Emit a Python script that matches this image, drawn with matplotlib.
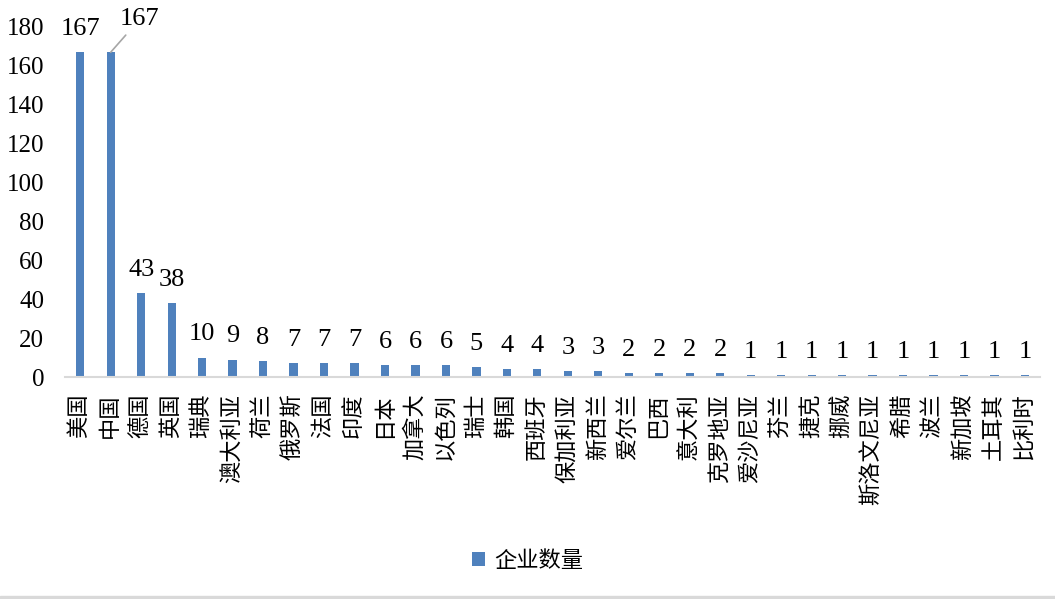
import matplotlib
matplotlib.use('Agg')
import matplotlib.pyplot as plt
from matplotlib.patches import Rectangle

plt.rcParams['font.family'] = ['Liberation Serif', 'Noto Sans CJK SC', 'DejaVu Sans']

countries = ['美国', '中国', '德国', '英国', '瑞典', '澳大利亚', '荷兰', '俄罗斯', '法国', '印度',
             '日本', '加拿大', '以色列', '瑞士', '韩国', '西班牙', '保加利亚', '新西兰', '爱尔兰', '巴西',
             '意大利', '克罗地亚', '爱沙尼亚', '芬兰', '捷克', '挪威', '斯洛文尼亚', '希腊', '波兰',
             '新加坡', '土耳其', '比利时']
counts = [167, 167, 43, 38, 10, 9, 8, 7, 7, 7,
          6, 6, 6, 5, 4, 4, 3, 3, 2, 2,
          2, 2, 1, 1, 1, 1, 1, 1, 1,
          1, 1, 1]
series_name = '企业数量'

fig = plt.figure(figsize=(10.55, 5.99), dpi=100)
ax = fig.add_axes([0.0616, 0.3706, 0.9244, 0.5844])

x = list(range(len(countries)))
bars = ax.bar(x, counts, width=0.27, color='#4F81BD', label=series_name)

ax.set_xlim(-0.5, len(countries) - 0.5)
ax.set_ylim(0, 180)
ax.set_yticks(range(0, 181, 20))
ax.tick_params(axis='y', length=0, labelsize=18, pad=15)
ax.set_xticks(x)
ax.set_xticklabels(countries, rotation=90, fontsize=16, va='top', ha='center')
ax.tick_params(axis='x', length=0, pad=12)
for s in ['top', 'right', 'left']:
    ax.spines[s].set_visible(False)
ax.spines['bottom'].set_color('#D9D9D9')
ax.spines['bottom'].set_linewidth(1.5)

# 数据标签
for i, v in enumerate(counts):
    if i == 1:
        ax.annotate(str(v), xy=(i, v), xytext=(29, 33), textcoords='offset pixels',
                    ha='center', va='center', fontsize=19,
                    arrowprops=dict(arrowstyle='-', color='#A6A6A6', lw=1.2, shrinkA=2, shrinkB=0))
    else:
        ax.annotate(str(v), xy=(i, v), xytext=(0, 9), textcoords='offset points',
                    ha='center', va='bottom', fontsize=19)

fig.legend(loc='center', bbox_to_anchor=(0.5, 0.062), frameon=False, fontsize=16,
           handlelength=0.6, handleheight=0.6, handletextpad=0.4)

# 底部灰色边线
fig.patches.append(Rectangle((0, 0), 1, 0.005, transform=fig.transFigure,
                             color='#D9D9D9', zorder=0))

fig.savefig('out.png', dpi=100)
